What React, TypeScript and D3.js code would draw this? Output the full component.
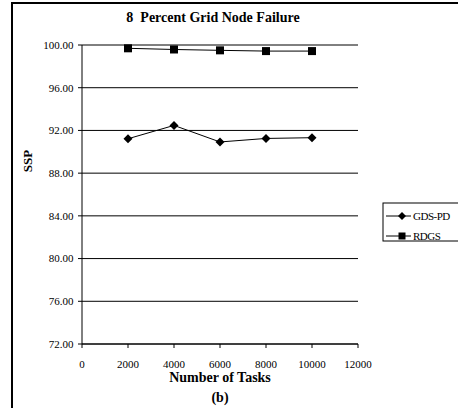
import React from "react";
import * as d3 from "d3";

const tasks = [2000, 4000, 6000, 8000, 10000];
const gdsPd = [91.22, 92.47, 90.92, 91.25, 91.32];
const rdgs = [99.69, 99.58, 99.5, 99.43, 99.43];
const yTicks = [72, 76, 80, 84, 88, 92, 96, 100];
const xTicks = [0, 2000, 4000, 6000, 8000, 10000, 12000];
const seriesNames = ["GDS-PD", "RDGS"];

const W = 458;
const H = 408;
const font = "'Times New Roman', 'Liberation Serif', Times, serif";

function Diamond({ x, y, s = 4.5 }: { x: number; y: number; s?: number }) {
  return <path d={`M${x},${y - s}L${x + s},${y}L${x},${y + s}L${x - s},${y}Z`} fill="#000" />;
}
function Square({ x, y, s = 4 }: { x: number; y: number; s?: number }) {
  return <rect x={x - s} y={y - s} width={2 * s} height={2 * s} fill="#000" />;
}

export default function App() {
  const x = d3.scaleLinear().domain([0, 12000]).range([82, 358]);
  const y = d3.scaleLinear().domain([72, 100]).range([344, 45]);
  const line = d3
    .line<[number, number]>()
    .x((d) => x(d[0]))
    .y((d) => y(d[1]));
  const g = tasks.map((t, i) => [t, gdsPd[i]] as [number, number]);
  const r = tasks.map((t, i) => [t, rdgs[i]] as [number, number]);
  const ts = { fontFamily: font } as React.CSSProperties;

  return (
    <svg width={W} height={H} style={{ position: "absolute", left: 0, top: 0, background: "#fff" }}>
      <rect x={0} y={0} width={W} height={H} fill="#fff" />
      {/* outer border */}
      <rect x={12} y={3} width={W + 10} height={H + 10} fill="none" stroke="#000" strokeWidth={2} />
      {/* title */}
      <text x={213} y={22} textAnchor="middle" fontSize={14} fontWeight="bold" style={{ ...ts, whiteSpace: "pre" }}>
        {"8  Percent Grid Node Failure"}
      </text>
      {/* gridlines */}
      {yTicks.map((t) => (
        <g key={t}>
          <line x1={82} x2={358} y1={y(t)} y2={y(t)} stroke="#000" strokeWidth={1} />
          <line x1={78} x2={82} y1={y(t)} y2={y(t)} stroke="#000" strokeWidth={1} />
          <text x={73.5} y={y(t) + 3.8} textAnchor="end" fontSize={11} style={ts}>
            {t.toFixed(2)}
          </text>
        </g>
      ))}
      {/* axes */}
      <line x1={82} x2={82} y1={45} y2={344} stroke="#000" strokeWidth={1} />
      <line x1={82} x2={358} y1={344} y2={344} stroke="#000" strokeWidth={1} />
      {xTicks.map((t) => (
        <g key={t}>
          <line x1={x(t)} x2={x(t)} y1={344} y2={348} stroke="#000" strokeWidth={1} />
          <text x={x(t)} y={368} textAnchor="middle" fontSize={11} style={ts}>
            {t}
          </text>
        </g>
      ))}
      {/* series */}
      <path d={line(r) || ""} fill="none" stroke="#000" strokeWidth={1} />
      <path d={line(g) || ""} fill="none" stroke="#000" strokeWidth={1} />
      {r.map((d, i) => (
        <Square key={"r" + i} x={x(d[0])} y={y(d[1])} />
      ))}
      {g.map((d, i) => (
        <Diamond key={"g" + i} x={x(d[0])} y={y(d[1])} />
      ))}
      {/* axis titles */}
      <text transform="translate(32,161) rotate(-90)" textAnchor="middle" fontSize={13} fontWeight="bold" style={ts}>
        SSP
      </text>
      <text x={x(6000)} y={382} textAnchor="middle" fontSize={14} fontWeight="bold" style={ts}>
        Number of Tasks
      </text>
      <text x={x(6000)} y={402} textAnchor="middle" fontSize={14} fontWeight="bold" style={ts}>
        (b)
      </text>
      {/* legend */}
      <rect x={383} y={203} width={90} height={38} fill="#fff" stroke="#000" strokeWidth={1} />
      {seriesNames.map((n, i) => {
        const ly = 216 + i * 20;
        return (
          <g key={n}>
            <line x1={386} x2={411} y1={ly} y2={ly} stroke="#000" strokeWidth={1} />
            {i === 0 ? <Diamond x={402} y={ly} s={4} /> : <Square x={402} y={ly} s={3.5} />}
            <text x={413} y={ly + 4} fontSize={11} letterSpacing={-0.5} style={ts}>
              {n}
            </text>
          </g>
        );
      })}
    </svg>
  );
}
